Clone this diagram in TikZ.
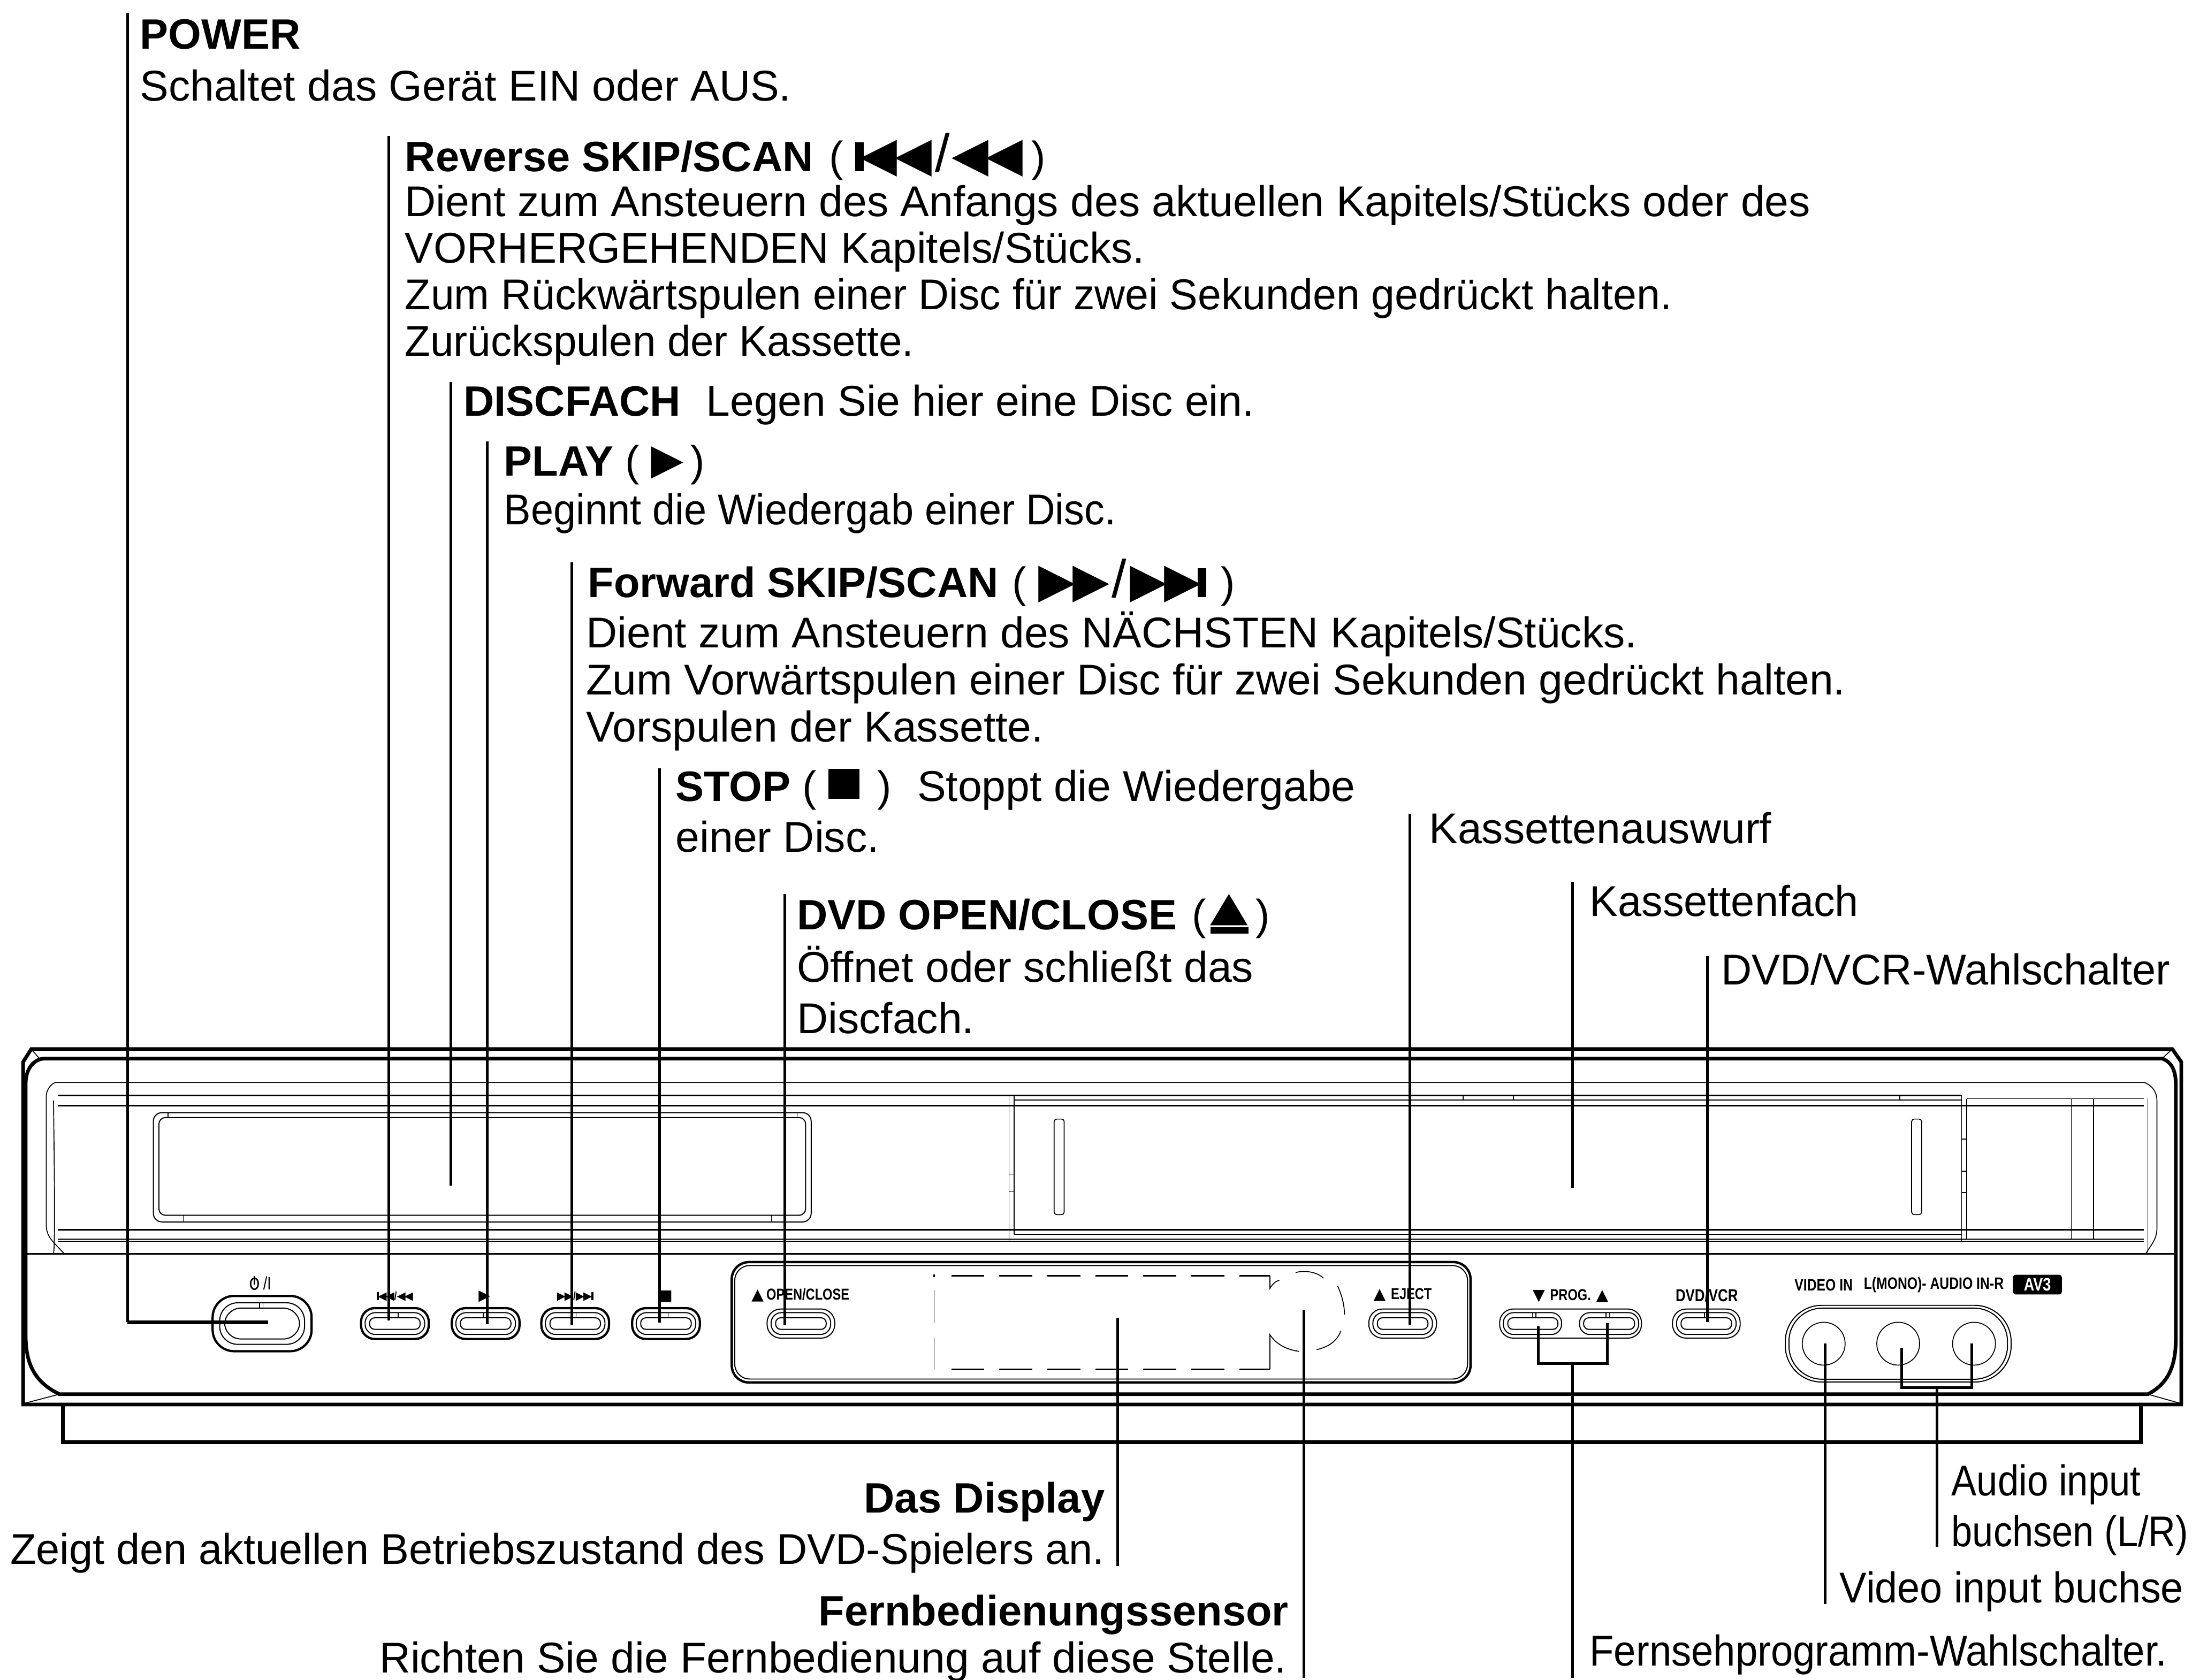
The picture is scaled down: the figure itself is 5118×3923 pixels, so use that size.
\documentclass[tikz,border=0pt]{standalone}
\usepackage{fontspec}
\usepackage{graphicx}
\setmainfont{Liberation Sans}
\newfontfamily\symfont{DejaVu Sans}
\newfontfamily\panelfont[FakeStretch=0.8]{Liberation Sans}
\newcommand{\revtri}{\raisebox{.01em}{\scalebox{1.13}{\symfont ◀}}}
\newcommand{\fwdtri}{\raisebox{.01em}{\scalebox{1.13}{\symfont ▶}}}
\newcommand{\revskip}{\rule{.2em}{.68em}\kern-.08em\revtri\kern-.06em\revtri}
\newcommand{\revscan}{\revtri\kern-.06em\revtri}
\newcommand{\fwdscan}{\fwdtri\kern-.06em\fwdtri}
\newcommand{\fwdskip}{\fwdtri\kern-.06em\fwdtri\kern-.08em\rule{.2em}{.68em}}
\newcommand{\bigslash}{\scalebox{1.25}{\mdseries /}}
\newcommand{\smallrev}{{\symfont ◀\kern-.1em◀}}
\newcommand{\smallfwd}{{\symfont ▶\kern-.1em▶}}
\newcommand{\ejectsym}{\rlap{\raisebox{-.1em}{\rule{.89em}{.16em}}}\raisebox{.22em}{\resizebox{.89em}{.62em}{\symfont ▲}}}
\newcommand{\lparen}{{\mdseries (}}
\newcommand{\rparen}{{\mdseries )}}
\tikzstyle{heading} = [anchor=base west, inner sep=0pt, font=\fontsize{28.2}{31.3}\selectfont\bfseries]
\tikzstyle{desc} = [anchor=base west, inner sep=0pt, align=left, font=\fontsize{28.6}{31.4}\selectfont]
\tikzstyle{desctall} = [anchor=base west, inner sep=0pt, align=left, font=\fontsize{28.6}{34}\selectfont]
\tikzstyle{descright} = [anchor=base east, inner sep=0pt, font=\fontsize{28.6}{31.3}\selectfont]
\tikzstyle{headright} = [anchor=base east, inner sep=0pt, font=\fontsize{28.2}{31.3}\selectfont\bfseries]
\tikzstyle{paneltext} = [inner sep=0pt, font=\fontsize{10.5}{11}\panelfont\bfseries]
\tikzstyle{leader} = [line width=1.7pt]
\tikzstyle{heavy} = [line width=2.4pt]
\tikzstyle{medium} = [line width=1.1pt]
\tikzstyle{fine} = [line width=.6pt]
\tikzstyle{btnouter} = [rectangle, draw=black, line width=1.5pt, rounded corners=.32cm, minimum width=1.58cm, minimum height=.72cm]
\tikzstyle{btnoutert} = [rectangle, draw=black, line width=.7pt, rounded corners=.32cm, minimum width=1.58cm, minimum height=.68cm]
\tikzstyle{btnmid} = [rectangle, draw=black, line width=.7pt, rounded corners=.24cm, minimum width=1.39cm, minimum height=.51cm]
\tikzstyle{btninner} = [rectangle, draw=black, line width=.7pt, rounded corners=.12cm, minimum width=1.18cm, minimum height=.27cm]
\tikzstyle{jack} = [circle, draw=black, line width=.6pt, minimum size=1cm, inner sep=0pt]

\begin{document}
\begin{tikzpicture}[x=.01cm, y=-.01cm]
\useasboundingbox (0,0) rectangle (5118,3923);

% housing
\draw [heavy] (54,3280) -- (54,2480) -- (73,2450) -- (5072,2450) -- (5093,2480) -- (5093,3280) -- cycle;
\draw [heavy] (139,3256) .. controls (85,3230) and (60,3190) .. (60,3120) -- (60,2530) .. controls (60,2495) and (80,2472) .. (106,2472) -- (5048,2472) .. controls (5070,2480) and (5080,2500) .. (5080,2530) -- (5080,3130) .. controls (5080,3200) and (5055,3235) .. (5015,3256) -- cycle;
\draw [fine] (73,2450) -- (92,2472);
\draw [fine] (5072,2450) -- (5048,2472);
\draw [fine] (54,3278) -- (139,3256);
\draw [fine] (5093,3278) -- (5015,3256);
\draw [heavy] (147,3280) -- (147,3368) -- (4999,3368) -- (4999,3280);
\draw [medium] (60,2928) -- (5080,2928);

% upper panel
\draw [fine] (150,2928) .. controls (125,2900) and (108,2890) .. (108,2860) -- (108,2560) .. controls (108,2545) and (120,2530) .. (130,2528) -- (5007,2528) .. controls (5025,2535) and (5036,2550) .. (5036,2570) -- (5036,2870) .. controls (5036,2895) and (5020,2910) .. (5010,2928);
\draw [fine] (125,2928) .. controls (130,2910) and (125,2590) .. (125,2570);
\draw [fine] (5015,2565) -- (5015,2925);
\draw [medium] (135,2558) -- (4580,2558);
\draw [fine] (2368,2569) -- (4580,2569);
\draw [medium] (135,2582) -- (5005,2582);
\draw [fine] (4592,2566) -- (5005,2566);
\draw [medium] (135,2872) -- (5005,2872);
\draw [fine] (2368,2883) -- (4580,2883);
\draw [fine] (135,2894) -- (5005,2894);
\draw [fine] (135,2899) -- (5005,2899);
\draw [fine] (2356,2558) -- (2356,2899);
\draw [fine] (2368,2558) -- (2368,2883);
\draw [fine] (4580,2558) -- (4580,2899);
\draw [fine] (4592,2566) -- (4592,2894);
\draw [fine] (4836,2566) -- (4836,2894);
\draw [fine] (4888,2566) -- (4888,2894);
\draw [fine] (3416,2558) -- (3416,2569);
\draw [fine] (3534,2558) -- (3534,2569);
\draw [fine] (4436,2558) -- (4436,2569);
\draw [fine] (2356,2742) -- (2368,2742);
\draw [fine] (2356,2782) -- (2368,2782);
\draw [fine] (4580,2660) -- (4592,2660);
\draw [fine] (4580,2735) -- (4592,2735);
\draw [fine] (4580,2785) -- (4592,2785);

% disc tray and cassette door
\node (trayout) [rectangle, draw=black, line width=.7pt, rounded corners=.2cm, minimum width=15.35cm, minimum height=2.55cm] at (1126,2726) {};
\node (trayin) [rectangle, draw=black, line width=.7pt, rounded corners=.15cm, minimum width=15.09cm, minimum height=2.28cm] at (1126,2724) {};
\draw [fine] (428,2838) -- (428,2854);
\draw [fine] (1801,2838) -- (1801,2854);
\draw [fine] (392,2599) -- (392,2610);
\draw [fine] (1861,2599) -- (1861,2610);
\node (slotl) [rectangle, draw=black, line width=.6pt, rounded corners=.06cm, minimum width=.14cm, minimum height=2.23cm] at (2473,2725) {};
\node (slotr) [rectangle, draw=black, line width=.6pt, rounded corners=.06cm, minimum width=.14cm, minimum height=2.23cm] at (4475,2725) {};

% front buttons
\node (btnpower) [btnouter, rounded corners=.5cm, minimum width=2.31cm, minimum height=1.29cm] at (612,3091) {};
\node (btnpowerm) [btnmid, rounded corners=.42cm, minimum width=1.98cm, minimum height=.97cm] at (612,3091) {};
\node (btnpoweri) [btnmid, rounded corners=.38cm, minimum width=1.75cm, minimum height=.72cm] at (612,3091) {};
\node (btnrev) [btnouter] at (922,3091) {};
\node (btnrevm) [btnmid] at (922,3091) {};
\node (btnrevi) [btninner] at (922,3091) {};
\node (btnplay) [btnouter] at (1134,3091) {};
\node (btnplaym) [btnmid] at (1134,3091) {};
\node (btnplayi) [btninner] at (1134,3091) {};
\node (btnfwd) [btnouter] at (1343,3091) {};
\node (btnfwdm) [btnmid] at (1343,3091) {};
\node (btnfwdi) [btninner] at (1343,3091) {};
\node (btnstop) [btnouter] at (1555,3091) {};
\node (btnstopm) [btnmid] at (1555,3091) {};
\node (btnstopi) [btninner] at (1555,3091) {};

% display panel
\node (panelout) [rectangle, draw=black, line width=1.6pt, rounded corners=.4cm, minimum width=17.24cm, minimum height=2.81cm] at (2571,3088) {};
\node (panelin) [rectangle, draw=black, line width=.7pt, rounded corners=.35cm, minimum width=17.1cm, minimum height=2.65cm] at (2571,3088) {};
\node (btnopen) [btnoutert] at (1870,3091) {};
\node (btnopenm) [btnmid] at (1870,3091) {};
\node (btnopeni) [btninner] at (1870,3091) {};
\node (btneject) [btnoutert] at (3275,3091) {};
\node (btnejectm) [btnmid] at (3275,3091) {};
\node (btnejecti) [btninner] at (3275,3091) {};
\draw [medium, dash pattern=on .77cm off .35cm] (2221,2979) -- (2965,2979);
\draw [medium, dash pattern=on .77cm off .35cm] (2221,3198) -- (2965,3198);
\draw [fine] (2181,3013) -- (2181,3090);
\draw [fine] (2181,3124) -- (2181,3198);
\draw [medium] (2181,2976) -- (2181,2982);
\draw [fine] (2965,2979) -- (2965,3009) .. controls (2970,3000) and (2978,2992) .. (2987,2990);
\draw [fine] (2965,3198) -- (2965,3117) .. controls (2980,3140) and (3005,3152) .. (3033,3156);
\draw [fine] (3025,2972) .. controls (3045,2966) and (3075,2970) .. (3090,2985);
\draw [fine] (3123,3003) .. controls (3135,3030) and (3139,3050) .. (3139,3070);
\draw [fine] (3131,3108) .. controls (3122,3130) and (3105,3145) .. (3074,3152);

% right hand buttons
\node (btnprog) [btnoutert, minimum width=3.31cm] at (3667,3091) {};
\node (btnprogl) [btnmid, minimum width=1.36cm] at (3578,3091) {};
\node (btnprogli) [btninner, minimum width=1.17cm] at (3579,3091) {};
\node (btnprogr) [btnmid, minimum width=1.38cm] at (3757,3091) {};
\node (btnprogri) [btninner, minimum width=1.19cm] at (3757,3091) {};
\node (btnvcr) [btnoutert] at (3984,3091) {};
\node (btnvcrm) [btnmid] at (3984,3091) {};
\node (btnvcri) [btninner] at (3984,3091) {};
\draw [fine] (3578,3066) -- (3578,3078);
\draw [fine] (3586,3066) -- (3586,3078);
\draw [fine] (3750,3066) -- (3750,3078);
\draw [fine] (3758,3066) -- (3758,3078);
\draw [fine] (3980,3066) -- (3980,3078);
\draw [fine] (930,3066) -- (930,3078);
\draw [fine] (1128,3066) -- (1128,3078);
\draw [fine] (1345,3066) -- (1345,3078);
\draw [fine] (1560,3066) -- (1560,3078);
\draw [fine] (606,3042) -- (606,3054);
\draw [fine] (614,3042) -- (614,3054);
\node (avout) [rectangle, draw=black, line width=.7pt, rounded corners=.85cm, minimum width=5.27cm, minimum height=1.79cm] at (4432,3138) {};
\node (avin) [rectangle, draw=black, line width=.7pt, rounded corners=.78cm, minimum width=5.1cm, minimum height=1.66cm] at (4432,3138) {};
\node (jackv) [jack] at (4258,3138) {};
\node (jackl) [jack] at (4432,3138) {};
\node (jackr) [jack] at (4609,3138) {};

% panel printing
\draw [line width=1pt] (594,2998) ellipse (.09cm and .13cm);
\draw [line width=1pt] (594,2980) -- (594,3000);
\node (txtpower) [paneltext, font=\fontsize{12}{12}\panelfont] at (624,2997) {/I};
\node (txtrev) [paneltext, font=\fontsize{7.5}{8}\panelfont\bfseries] at (922,3028) {\rule{.2em}{.68em}\kern-.08em\smallrev/\smallrev};
\node (txtplay) [paneltext, font=\fontsize{10}{10}\symfont] at (1131,3028) {▶};
\node (txtfwd) [paneltext, font=\fontsize{7.5}{8}\panelfont\bfseries] at (1343,3028) {\smallfwd/\smallfwd\kern-.08em\rule{.2em}{.68em}};
\node (txtstop) [paneltext, font=\fontsize{10}{10}\symfont] at (1554,3028) {■};
\node (txtopen) [paneltext] at (1869,3024) {{\symfont ▲}\,OPEN/CLOSE};
\node (txteject) [paneltext] at (3275,3024) {{\symfont ▲}\,\,EJECT};
\node (txtprog) [paneltext] at (3667,3026) {{\symfont ▼}\,\,PROG.\,\,{\symfont ▲}};
\node (txtvcr) [paneltext, font=\fontsize{11.5}{12}\panelfont\bfseries] at (3985,3025) {DVD/VCR};
\node (txtvideo) [paneltext, font=\fontsize{11}{11}\panelfont\bfseries] at (4258,3001) {VIDEO IN};
\node (txtaudio) [paneltext, font=\fontsize{11}{11}\panelfont\bfseries] at (4515,3001) {L(MONO)- AUDIO IN-R};
\node (txtav) [rectangle, rounded corners=.06cm, fill=black, text=white, font=\fontsize{12}{12}\panelfont\bfseries, minimum width=1.14cm, minimum height=.46cm, inner sep=0pt] at (4757,3000) {AV3};

% upper labels
\node (power) [heading] at (326,114) {POWER};
\node (powerd) [desc] at (326,235) {Schaltet das Gerät EIN oder AUS.};
\node (rev) [heading] at (945,400) {Reverse SKIP/SCAN\kern.1em\ \lparen\ \revskip\kern.08em\bigslash\kern.04em\revscan\kern.2em\rparen};
\node (revd) [desc, font=\fontsize{28.6}{30.9}\selectfont] at (945,832) {Dient zum Ansteuern des Anfangs des aktuellen Kapitels/Stücks oder des\\\scalebox{.99}[1]{VORHERGEHENDEN Kapitels/Stücks.}\\\scalebox{.98}[1]{Zum Rückwärtspulen einer Disc für zwei Sekunden gedrückt halten.}\\\scalebox{.97}[1]{Zurückspulen der Kassette.}};
\node (disc) [heading] at (1082,971) {DISCFACH};
\node (discd) [desc] at (1648,971) {Legen Sie hier eine Disc ein.};
\node (play) [heading] at (1176,1112) {PLAY \lparen\ \raisebox{.05em}{\symfont ▶}\,\rparen};
\node (playd) [desc] at (1176,1225) {\scalebox{.94}[1]{Beginnt die Wiedergab einer Disc.}};
\node (fwd) [heading] at (1372,1395) {Forward SKIP/SCAN\kern.05em\ \lparen\ \fwdscan\kern.05em\bigslash\kern.08em\fwdskip\kern.07em\ \rparen};
\node (fwdd) [desc] at (1368,1733) {Dient zum Ansteuern des NÄCHSTEN Kapitels/Stücks.\\Zum Vorwärtspulen einer Disc für zwei Sekunden gedrückt halten.\\Vorspulen der Kassette.};
\node (stop) [heading] at (1577,1871) {STOP \lparen\ \rule[.06em]{.73em}{.7em}\kern.15em\ \rparen};
\node (stopd) [desc] at (2141,1871) {Stoppt die Wiedergabe};
\node (stope) [desc] at (1577,1990) {einer Disc.};
\node (open) [heading] at (1860,2171) {DVD OPEN/CLOSE\kern.08em\ \lparen\kern.1em\ejectsym\kern.18em\rparen};
\node (opend) [desctall] at (1860,2413) {Öffnet oder schließt das\\Discfach.};
\node (ejectd) [desc] at (3336,1970) {Kassettenauswurf};
\node (cassd) [desc] at (3711,2140) {\scalebox{.985}[1]{Kassettenfach}};
\node (vcrd) [desc] at (4018,2300) {\scalebox{.985}[1]{DVD/VCR-Wahlschalter}};

% lower labels
\node (displ) [headright] at (2580,3533) {Das Display};
\node (displd) [descright] at (2580,3653) {\scalebox{.985}[1]{Zeigt den aktuellen Betriebszustand des DVD-Spielers an.}};
\node (sens) [headright] at (3009,3797) {Fernbedienungssensor};
\node (sensd) [descright] at (3005,3906) {\scalebox{.997}[1]{Richten Sie die Fernbedienung auf diese Stelle.}};
\node (progd) [desc] at (3711,3890) {\scalebox{.923}[1]{Fernsehprogramm-Wahlschalter.}};
\node (videod) [desc] at (4295,3743) {\scalebox{.94}[1]{Video input buchse}};
\node (audiod) [desctall] at (4556,3612) {\scalebox{.878}[1]{Audio input}\\\scalebox{.875}[1]{buchsen (L/R)}};

% leader ends
\coordinate (powertop) at (298,30);
\coordinate (powerbend) at (298,3088);
\coordinate (powerend) at (626,3088);
\coordinate (revtop) at (908,317);
\coordinate (revend) at (908,3084);
\coordinate (disctop) at (1053,892);
\coordinate (discend) at (1053,2769);
\coordinate (playtop) at (1138,1031);
\coordinate (playend) at (1138,3092);
\coordinate (fwdtop) at (1335,1313);
\coordinate (fwdend) at (1335,3095);
\coordinate (stoptop) at (1540,1794);
\coordinate (stopend) at (1540,3089);
\coordinate (opentop) at (1832,2088);
\coordinate (openend) at (1832,3094);
\coordinate (ejecttop) at (3292,1900);
\coordinate (ejectend) at (3292,3094);
\coordinate (casstop) at (3672,2060);
\coordinate (cassend) at (3672,2774);
\coordinate (vcrtop) at (3987,2233);
\coordinate (vcrend) at (3987,3087);
\coordinate (displtop) at (2610,3077);
\coordinate (displend) at (2610,3657);
\coordinate (senstop) at (3044,3059);
\coordinate (sensend) at (3044,3918);
\coordinate (progl) at (3592,3098);
\coordinate (progr) at (3753,3090);
\coordinate (progbl) at (3592,3184);
\coordinate (progbr) at (3753,3184);
\coordinate (progm) at (3672,3184);
\coordinate (progend) at (3672,3918);
\coordinate (videotop) at (4261,3138);
\coordinate (videoend) at (4261,3746);
\coordinate (audiol) at (4440,3148);
\coordinate (audior) at (4604,3138);
\coordinate (audiobl) at (4440,3241);
\coordinate (audiobr) at (4604,3241);
\coordinate (audiom) at (4523,3241);
\coordinate (audioend) at (4523,3612);

% leaders
\draw [leader] (powertop) -- (powerbend);
\draw [heavy, line width=2.3pt] (powerbend) -- (powerend);
\draw [leader] (revtop) -- (revend);
\draw [leader] (disctop) -- (discend);
\draw [leader] (playtop) -- (playend);
\draw [leader] (fwdtop) -- (fwdend);
\draw [leader] (stoptop) -- (stopend);
\draw [leader] (opentop) -- (openend);
\draw [leader] (ejecttop) -- (ejectend);
\draw [leader] (casstop) -- (cassend);
\draw [leader] (vcrtop) -- (vcrend);
\draw [leader] (displtop) -- (displend);
\draw [leader] (senstop) -- (sensend);
\draw [leader] (progl) -- (progbl) -- (progbr) -- (progr);
\draw [leader] (progm) -- (progend);
\draw [leader] (videotop) -- (videoend);
\draw [leader] (audiol) -- (audiobl) -- (audiobr) -- (audior);
\draw [leader] (audiom) -- (audioend);
\end{tikzpicture}
\end{document}
